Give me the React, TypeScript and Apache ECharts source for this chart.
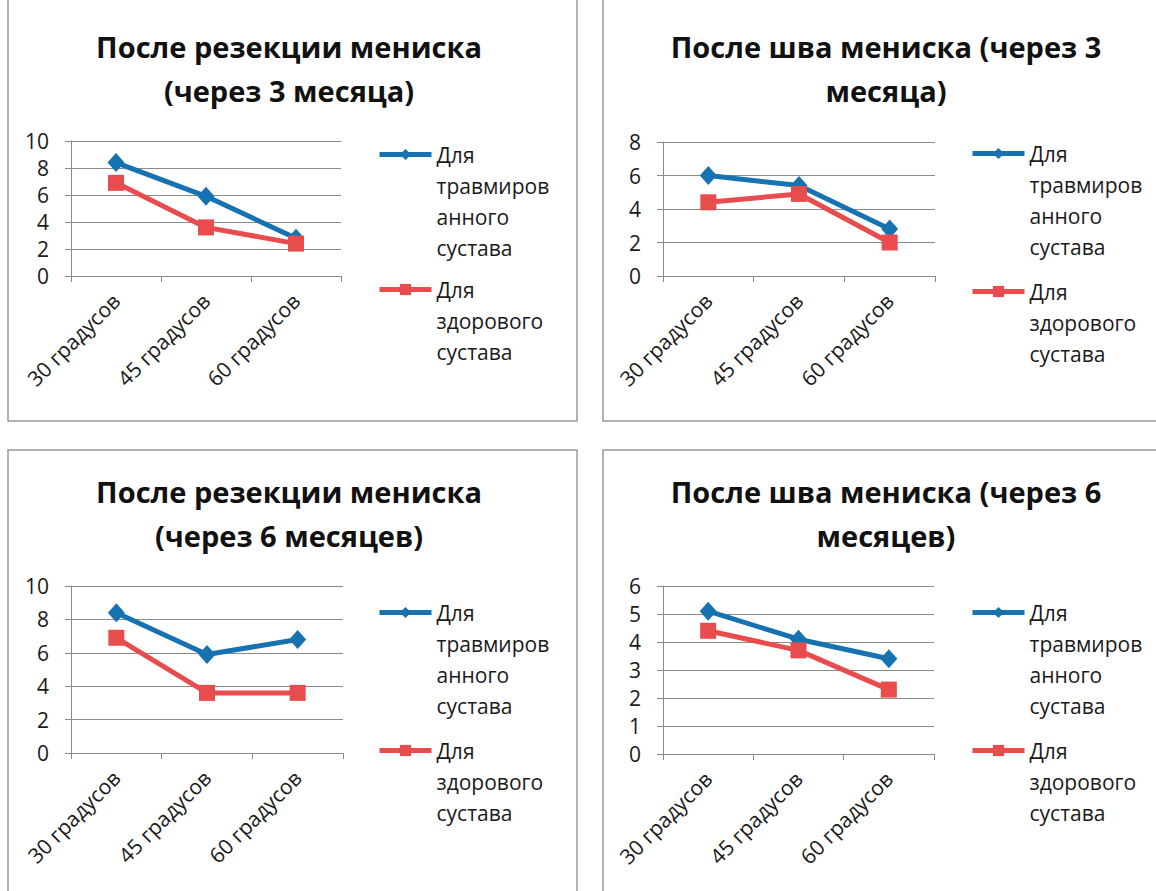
import React, { useEffect, useRef } from "react";
import * as echarts from "echarts";

// ---------- data ----------
const categories = ["30 градусов", "45 градусов", "60 градусов"];

const seriesInjured = "Для травмированного сустава";
const seriesHealthy = "Для здорового сустава";
const legendLinesInjured = ["Для", "травмиров", "анного", "сустава"];
const legendLinesHealthy = ["Для", "здорового", "сустава"];

const chartTitles = [
  "После резекции мениска\n(через 3 месяца)",
  "После шва мениска (через 3\nмесяца)",
  "После резекции мениска\n(через 6 месяцев)",
  "После шва мениска (через 6\nмесяцев)",
];

const resection3Injured = [8.4, 5.9, 2.8];
const resection3Healthy = [6.9, 3.6, 2.4];
const suture3Injured = [6.0, 5.4, 2.8];
const suture3Healthy = [4.4, 4.9, 2.0];
const resection6Injured = [8.4, 5.9, 6.8];
const resection6Healthy = [6.9, 3.6, 3.6];
const suture6Injured = [5.1, 4.1, 3.4];
const suture6Healthy = [4.4, 3.7, 2.3];

const yMaxes = [10, 8, 10, 6];
const yIntervals = [2, 2, 2, 1];

const panelData = [
  [resection3Injured, resection3Healthy],
  [suture3Injured, suture3Healthy],
  [resection6Injured, resection6Healthy],
  [suture6Injured, suture6Healthy],
];

// ---------- layout / style ----------
const FONT = "Open Sans";
const BLUE = "#1672B0";
const RED = "#E84C4C";
const GRID_LINE = "#8a8a8a";
const TEXT = "#1a1a1a";

const panels = [
  { box: [8, -5, 569, 426], grid: [71, 141, 270, 135], titleX: 289, titleTop: 24, legendX: 377, legendY: [154, 289] },
  { box: [603, -5, 560, 426], grid: [663, 142, 272, 134], titleX: 886, titleTop: 24, legendX: 970, legendY: [153, 291] },
  { box: [8, 450, 569, 450], grid: [71, 586, 272, 167], titleX: 289, titleTop: 469, legendX: 377, legendY: [612, 750] },
  { box: [603, 450, 560, 450], grid: [663, 586, 271, 168], titleX: 886, titleTop: 469, legendX: 970, legendY: [612, 750] },
];

const LH = 31;
const ITEM_H = 14;

function legendFor(name: string, lines: string[], left: number, iconY: number) {
  const n = lines.length;
  // leading blank lines keep the first text line level with the icon
  const padded = new Array(n - 1).fill("").concat(lines).join("\n");
  return {
    data: [name],
    left,
    top: Math.round(iconY - ((2 * n - 1) * LH) / 2),
    orient: "vertical",
    padding: 0,
    itemGap: 0,
    itemWidth: 52,
    itemHeight: ITEM_H,
    selectedMode: false,
    lineStyle: { width: 5 },
    formatter: () => padded,
    textStyle: {
      fontFamily: FONT,
      fontSize: 21,
      color: TEXT,
      lineHeight: LH,
    },
  };
}

export default function App() {
  const ref = useRef<HTMLDivElement>(null);

  useEffect(() => {
    document.body.style.margin = "0";
    if (!ref.current) return;
    const chart = echarts.init(ref.current, null, { renderer: "svg" });

    const option: any = {
      animation: false,
      backgroundColor: "#ffffff",
      title: panels.map((p, i) => ({
        text: chartTitles[i],
        left: p.titleX,
        top: p.titleTop,
        textAlign: "center",
        padding: 0,
        textStyle: { fontFamily: FONT, fontSize: 29, fontWeight: "bold", lineHeight: 44, color: "#111" },
      })),
      legend: panels.flatMap((p) => [
        legendFor(seriesInjured, legendLinesInjured, p.legendX, p.legendY[0]),
        legendFor(seriesHealthy, legendLinesHealthy, p.legendX, p.legendY[1]),
      ]),
      grid: panels.map((p) => ({
        left: p.grid[0],
        top: p.grid[1],
        width: p.grid[2],
        height: p.grid[3],
        containLabel: false,
      })),
      xAxis: panels.map((_, i) => ({
        type: "category",
        gridIndex: i,
        data: categories,
        boundaryGap: true,
        axisLine: { show: true, lineStyle: { color: GRID_LINE, width: 1 } },
        axisTick: { show: true, length: 6, lineStyle: { color: GRID_LINE } },
        axisLabel: { interval: 0, rotate: 45, fontFamily: FONT, fontSize: 21, color: TEXT, margin: 21 },
        splitLine: { show: false },
      })),
      yAxis: panels.map((_, i) => ({
        type: "value",
        gridIndex: i,
        min: 0,
        max: yMaxes[i],
        interval: yIntervals[i],
        axisLine: { show: true, lineStyle: { color: GRID_LINE, width: 1 } },
        axisTick: { show: true, length: 6, lineStyle: { color: GRID_LINE } },
        axisLabel: { fontFamily: FONT, fontSize: 21, color: TEXT, margin: 22 },
        splitLine: { show: true, lineStyle: { color: GRID_LINE, width: 1 } },
      })),
      series: panelData.flatMap((d, i) => [
        {
          name: seriesInjured,
          type: "line",
          xAxisIndex: i,
          yAxisIndex: i,
          data: d[0],
          symbol: "diamond",
          symbolSize: [17, 19],
          lineStyle: { color: BLUE, width: 5 },
          itemStyle: { color: BLUE },
          emphasis: { disabled: true },
        },
        {
          name: seriesHealthy,
          type: "line",
          xAxisIndex: i,
          yAxisIndex: i,
          data: d[1],
          symbol: "rect",
          symbolSize: 16,
          lineStyle: { color: RED, width: 5 },
          itemStyle: { color: RED },
          emphasis: { disabled: true },
        },
      ]),
      graphic: panels.map((p) => ({
        type: "rect",
        shape: { x: p.box[0], y: p.box[1], width: p.box[2], height: p.box[3] },
        style: { fill: "none", stroke: "#9a9a9a", lineWidth: 1.5 },
        silent: true,
        z: -1,
      })),
    };

    chart.setOption(option);
    return () => chart.dispose();
  }, []);

  return <div ref={ref} style={{ width: 1156, height: 891 }} />;
}
